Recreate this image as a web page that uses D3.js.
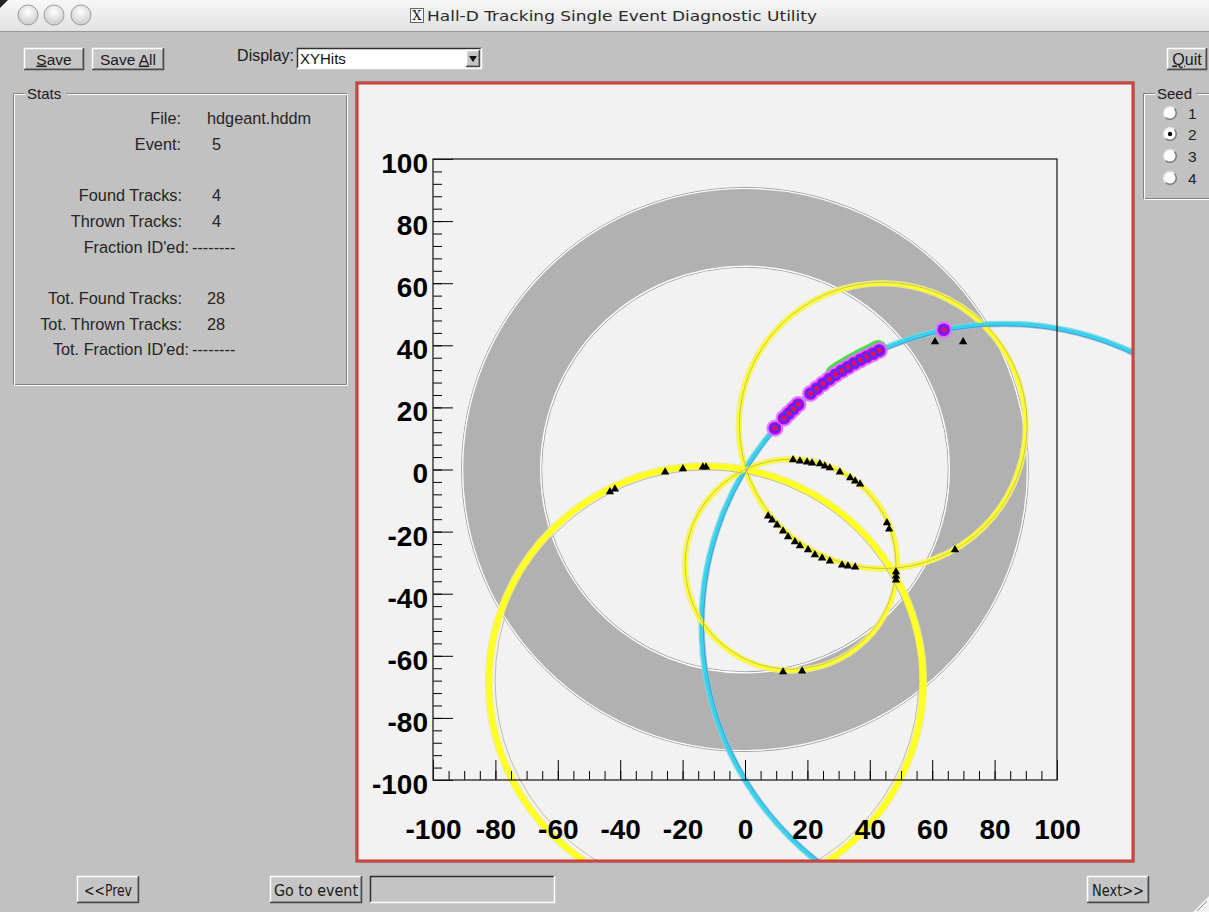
<!DOCTYPE html>
<html><head><meta charset="utf-8">
<script src="https://cdn.jsdelivr.net/npm/d3@7/dist/d3.min.js"></script>
<style>
body{margin:0;background:#c0c0c0;overflow:hidden}
svg{display:block}
</style>
</head><body>
<svg id="c" width="1209" height="912"></svg>
<script>
// ---------------- data ----------------
const axisDomain = [-100, 100];
const xTickValues = [-100, -80, -60, -40, -20, 0, 20, 40, 60, 80, 100];
const yTickValues = [-100, -80, -60, -40, -20, 0, 20, 40, 60, 80, 100];
const detectorInnerR = 65.5;
const detectorOuterR = 90.5;

// found track circles (x-y projection of helices), seed index 1..4
const foundSeed = [1, 2, 3, 4];
const foundCx = [44, 83, 14.8, -12.5];
const foundCy = [14, -50, -30.7, -68.5];
const foundR  = [46, 96.9, 34, 69.6];
// thrown (true) tracks
const thrownCx = [44.3, 83, 14.6, -12.2];
const thrownCy = [14.2, -50, -30.5, -68];
const thrownR  = [46.1, 96.3, 33.8, 67.9];
const selectedSeed = 2;

// hits belonging to the selected seed
const seedHitX = [9.6, 12.5, 14, 15.5, 17, 21, 23, 25, 27, 29, 31, 33, 35, 37, 39, 41, 43, 63.7];
const seedHitY = [13.3, 16.5, 18.0, 19.5, 20.9, 24.5, 26.1, 27.6, 29.1, 30.5, 31.8, 33.0, 34.2, 35.3, 36.3, 37.3, 38.3, 45.0];
// hits matched to thrown track (green highlight)
const matchedHitX = [29, 31, 33, 35, 37, 39, 41, 43];
const matchedHitY = [30.5, 31.8, 33.0, 34.2, 35.3, 36.3, 37.3, 38.3];
// other hits
const otherHitX = [-43.3, -41.7, -25.6, -19.9, -13.5, -12.5,
  15.4, 17.6, 19.9, 21.5, 24.0, 25.6, 27.2, 30.4, 33.7, 35.3, 36.9, 45.5, 46.2, 48.4, 48.4, 48.4, 12.2, 18.3,
  7.4, 8.7, 10.3, 12.2, 13.8, 16.0, 17.6, 20.2, 22.4, 24.7, 27.2, 31.1, 33.0, 35.3, 67.3,
  60.9, 69.9];
const otherHitY = [-7.2, -6.3, -0.8, 0.2, 0.8, 0.8,
  3.1, 2.7, 2.4, 2.1, 1.8, 1.1, 0.5, -0.8, -2.7, -3.7, -4.7, -17.2, -19.2, -33.0, -34.3, -35.6, -65.2, -64.9,
  -15.0, -16.3, -17.9, -19.8, -21.7, -23.3, -24.6, -25.9, -27.5, -28.5, -29.5, -30.8, -31.1, -31.4, -25.9,
  41.1, 41.1];

const statLabels = ["File:", "Event:", "", "Found Tracks:", "Thrown Tracks:", "Fraction ID'ed:", "", "Tot. Found Tracks:", "Tot. Thrown Tracks:", "Tot. Fraction ID'ed:"];
const statValues = ["hdgeant.hddm", "5", "", "4", "4", "--------", "", "28", "28", "--------"];
const seedOptions = ["1", "2", "3", "4"];
const windowTitle = "Hall-D Tracking Single Event Diagnostic Utility";
const displayChoice = "XYHits";

// ---------------- drawing ----------------
const svg = d3.select("#c");
const W = 1209, H = 912;
const FONT = "'Liberation Sans', Arial, Helvetica, sans-serif";
const NARROW = "'Liberation Sans Narrow', 'DejaVu Sans Condensed', 'Liberation Sans', sans-serif";
const defs = svg.append("defs");

svg.append("rect").attr("width", W).attr("height", H).attr("fill", "#c1c1c1");

// title bar
const tg = defs.append("linearGradient").attr("id", "tb").attr("x1", 0).attr("y1", 0).attr("x2", 0).attr("y2", 1);
tg.append("stop").attr("offset", 0).attr("stop-color", "#f7f7f7");
tg.append("stop").attr("offset", 1).attr("stop-color", "#e2e2e2");
svg.append("rect").attr("width", W).attr("height", 31).attr("fill", "url(#tb)");
svg.append("line").attr("x1", 0).attr("x2", W).attr("y1", 31.5).attr("y2", 31.5).attr("stroke", "#9a9a9a");
const rg = defs.append("radialGradient").attr("id", "tl").attr("cx", 0.5).attr("cy", 0.35).attr("r", 0.6);
rg.append("stop").attr("offset", 0).attr("stop-color", "#ffffff");
rg.append("stop").attr("offset", 1).attr("stop-color", "#cfcfcf");
[28, 54, 81].forEach(cx => {
  svg.append("circle").attr("cx", cx).attr("cy", 15).attr("r", 10).attr("fill", "url(#tl)").attr("stroke", "#9c9c9c").attr("stroke-width", 1);
});
svg.append("path").attr("d", "M0,0 L8,0 L0,8 Z").attr("fill", "#222");
svg.append("rect").attr("x", 410.5).attr("y", 8.5).attr("width", 13).attr("height", 14).attr("fill", "#fafafa").attr("stroke", "#666");
svg.append("text").attr("x", 417).attr("y", 20).attr("text-anchor", "middle").attr("font-family", "'DejaVu Serif', serif").attr("font-size", 13).attr("fill", "#222").text("X");
svg.append("text").attr("x", 427).attr("y", 20.5).attr("font-family", "'DejaVu Sans', sans-serif").attr("font-size", 14.5)
  .attr("textLength", 390).attr("lengthAdjust", "spacingAndGlyphs").attr("fill", "#2a2a2a").text(windowTitle);

// helpers
function button(x, y, w, h, label, opts = {}) {
  const g = svg.append("g");
  g.append("rect").attr("x", x).attr("y", y).attr("width", w).attr("height", h).attr("fill", "#c6c6c6");
  g.append("path").attr("d", `M${x + .5},${y + h} V${y + .5} H${x + w}`).attr("fill", "none").attr("stroke", "#ffffff").attr("stroke-width", 1.5);
  g.append("path").attr("d", `M${x},${y + h - .5} H${x + w - .5} V${y}`).attr("fill", "none").attr("stroke", "#4a4a4a").attr("stroke-width", 1.5);
  g.append("path").attr("d", `M${x + 1.5},${y + h - 1.5} H${x + w - 1.5} V${y + 1.5}`).attr("fill", "none").attr("stroke", "#8c8c8c").attr("stroke-width", 1);
  const t = g.append("text").attr("x", x + w / 2).attr("y", y + h / 2 + (opts.dy || 5.5)).attr("text-anchor", "middle")
    .attr("font-family", opts.font || FONT).attr("font-size", opts.size || 15.5).attr("fill", "#1a1a1a");
  if (opts.ul !== undefined) {
    t.append("tspan").text(label.slice(0, opts.ul));
    t.append("tspan").attr("text-decoration", "underline").text(label[opts.ul]);
    t.append("tspan").text(label.slice(opts.ul + 1));
  } else t.text(label);
  if (opts.len) t.attr("textLength", opts.len).attr("lengthAdjust", "spacingAndGlyphs");
  return g;
}
function groove(x, y, w, h, label, lx, lw) {
  const g = svg.append("g");
  const p = `M${lx - 3},${y} H${x} V${y + h} H${x + w} V${y} H${lx + lw + 3}`;
  g.append("path").attr("d", p).attr("fill", "none").attr("stroke", "#808080").attr("stroke-width", 1).attr("transform", "translate(0.5,0.5)");
  g.append("path").attr("d", p).attr("fill", "none").attr("stroke", "#ffffff").attr("stroke-width", 1).attr("transform", "translate(1.5,1.5)");
  g.append("text").attr("x", lx).attr("y", y + 5.5).attr("font-family", FONT).attr("font-size", 15).attr("fill", "#1a1a1a").text(label);
}
function sunken(x, y, w, h, fill) {
  svg.append("rect").attr("x", x).attr("y", y).attr("width", w).attr("height", h).attr("fill", fill);
  svg.append("path").attr("d", `M${x + .5},${y + h} V${y + .5} H${x + w}`).attr("fill", "none").attr("stroke", "#303030").attr("stroke-width", 1.5);
  svg.append("path").attr("d", `M${x},${y + h - .5} H${x + w - .5} V${y}`).attr("fill", "none").attr("stroke", "#ffffff").attr("stroke-width", 1.5);
}

// top row controls
button(24, 48, 60, 22, "Save", { ul: 0 });
button(92, 48, 72, 22, "Save All", { ul: 5 });
svg.append("text").attr("x", 294).attr("y", 61).attr("text-anchor", "end").attr("font-family", FONT).attr("font-size", 16).attr("fill", "#1a1a1a").text("Display:");
sunken(297, 48, 185, 21, "#ffffff");
svg.append("text").attr("x", 300).attr("y", 64).attr("font-family", FONT).attr("font-size", 15).attr("fill", "#111").text(displayChoice);
button(466, 50, 14, 17, "");
svg.append("path").attr("d", "M469,56 L477,56 L473,62 Z").attr("fill", "#111");
button(1167, 48, 40, 22, "Quit", { ul: 0, size: 16 });

// stats group
groove(13, 93, 333, 291, "Stats", 27, 36);
const rowY = statLabels.map((d, i) => 124 + i * 25.7);
const labelRight = [181, 181, 0, 182, 182, 189, 0, 182, 182, 189];
const valueLeft = [207, 212, 0, 212, 212, 192, 0, 207, 207, 192];
statLabels.forEach((d, i) => {
  if (!d) return;
  svg.append("text").attr("x", labelRight[i]).attr("y", rowY[i]).attr("text-anchor", "end").attr("font-family", FONT).attr("font-size", 16.3).attr("fill", "#252525").text(d);
  svg.append("text").attr("x", valueLeft[i]).attr("y", rowY[i]).attr("font-family", FONT).attr("font-size", 16.3).attr("fill", "#252525").text(statValues[i]);
});

// seed group
groove(1143, 93, 80, 105, "Seed", 1157, 36);
const seedY = [113, 134, 156, 178];
seedOptions.forEach((s, i) => {
  const cy = seedY[i], cx = 1170;
  svg.append("circle").attr("cx", cx).attr("cy", cy).attr("r", 6).attr("fill", "#ffffff");
  svg.append("path").attr("d", d3.arc()({ innerRadius: 5.5, outerRadius: 7, startAngle: -Math.PI * 0.75 - Math.PI, endAngle: Math.PI * 0.25 - Math.PI })).attr("transform", `translate(${cx},${cy})`).attr("fill", "#7a7a7a");
  svg.append("path").attr("d", d3.arc()({ innerRadius: 5.5, outerRadius: 7, startAngle: Math.PI * 0.25 - Math.PI, endAngle: Math.PI * 1.25 - Math.PI })).attr("transform", `translate(${cx},${cy})`).attr("fill", "#e8e8e8");
  if (+s === selectedSeed) svg.append("circle").attr("cx", cx).attr("cy", cy).attr("r", 2.2).attr("fill", "#000");
  svg.append("text").attr("x", 1188).attr("y", cy + 5.5).attr("font-family", FONT).attr("font-size", 15.5).attr("fill", "#222").text(s);
});

// bottom controls
button(77, 876, 62, 27, "<<Prev", { font: NARROW, size: 16, len: 48, dy: 6 });
button(270, 876, 92, 27, "Go to event", { font: NARROW, size: 16, len: 84, dy: 6 });
sunken(370, 876, 185, 27, "#c4c4c4");
button(1087, 876, 62, 27, "Next>>", { font: NARROW, size: 16, len: 52, dy: 6 });
svg.append("path").attr("d", "M1209,896 L1209,912 L1193,912 Z").attr("fill", "#f4f4f4");
svg.append("line").attr("x1", 1197).attr("y1", 911).attr("x2", 1207).attr("y2", 901).attr("stroke", "#888");

// canvas
const cv = { x: 357, y: 83, w: 776, h: 778 };
svg.append("rect").attr("x", cv.x).attr("y", cv.y).attr("width", cv.w).attr("height", cv.h).attr("fill", "#f2f2f2");
defs.append("clipPath").attr("id", "cvclip").append("rect").attr("x", cv.x + 1).attr("y", cv.y + 1).attr("width", cv.w - 2).attr("height", cv.h - 2);

const x = d3.scaleLinear().domain(axisDomain).range([433, 1057]);
const y = d3.scaleLinear().domain(axisDomain).range([780, 159]);
const rx = r => x(r) - x(0);
const ry = r => y(0) - y(r);

const plot = svg.append("g").attr("clip-path", "url(#cvclip)");

// detector annulus
const ann = d3.path();
const ell = (p, r) => {
  const a = rx(r), b = ry(r), cx = x(0), cy = y(0);
  p.moveTo(cx + a, cy);
  for (let k = 1; k <= 360; k++) { const t = k * Math.PI / 180; p.lineTo(cx + a * Math.cos(t), cy - b * Math.sin(t)); }
  p.closePath();
};
ell(ann, detectorOuterR); ell(ann, detectorInnerR);
plot.append("path").attr("d", ann.toString()).attr("fill", "#b1b1b1").attr("fill-rule", "evenodd");
[detectorOuterR, detectorInnerR].forEach((r, i) => {
  plot.append("ellipse").attr("cx", x(0)).attr("cy", y(0)).attr("rx", rx(r) + (i ? -1 : 1)).attr("ry", ry(r) + (i ? -1 : 1))
    .attr("fill", "none").attr("stroke", "#8d8d8d").attr("stroke-width", 0.8);
  plot.append("ellipse").attr("cx", x(0)).attr("cy", y(0)).attr("rx", rx(r)).attr("ry", ry(r))
    .attr("fill", "none").attr("stroke", "#ffffff").attr("stroke-width", 1.2);
});

// tracks
const tracks = foundSeed.map((s, i) => ({ seed: s, cx: foundCx[i], cy: foundCy[i], r: foundR[i], tcx: thrownCx[i], tcy: thrownCy[i], tr: thrownR[i] }));
const isSel = d => d.seed === selectedSeed;
plot.selectAll("ellipse.halo").data(tracks).join("ellipse").attr("class", "halo")
  .attr("cx", d => x(d.cx)).attr("cy", d => y(d.cy)).attr("rx", d => rx(d.r)).attr("ry", d => ry(d.r))
  .attr("fill", "none").attr("stroke", d => isSel(d) ? "#80d4e4" : "#efef8a").attr("stroke-width", d => d.seed === 4 ? 8 : 6.5).attr("opacity", 0.85);
plot.selectAll("ellipse.core").data(tracks).join("ellipse").attr("class", "core")
  .attr("cx", d => x(d.cx)).attr("cy", d => y(d.cy)).attr("rx", d => rx(d.r)).attr("ry", d => ry(d.r))
  .attr("fill", "none").attr("stroke", d => isSel(d) ? "#35d4ec" : "#ffff20").attr("stroke-width", d => d.seed === 4 ? 5.5 : 4);
plot.selectAll("ellipse.thrown").data(tracks).join("ellipse").attr("class", "thrown")
  .attr("cx", d => x(d.tcx)).attr("cy", d => y(d.tcy)).attr("rx", d => rx(d.tr)).attr("ry", d => ry(d.tr))
  .attr("fill", "none").attr("stroke", d => isSel(d) ? "#5c80c8" : "#b8b088").attr("stroke-width", 1).attr("opacity", 0.8);

// other hits (black triangles)
const tri = d3.symbol().type(d3.symbolTriangle).size(30);
plot.selectAll("path.oh").data(otherHitX.map((v, i) => [v, otherHitY[i]])).join("path").attr("class", "oh")
  .attr("d", tri).attr("transform", d => `translate(${x(d[0])},${y(d[1])})`).attr("fill", "#000");

// matched hits highlight (green)
plot.append("path").attr("d", d3.line().x(d => x(d[0]) - 1).y(d => y(d[1]) - 1.5).curve(d3.curveCatmullRom)(matchedHitX.map((v, i) => [v, matchedHitY[i]])))
  .attr("fill", "none").attr("stroke", "#44e044").attr("stroke-width", 18).attr("stroke-linecap", "round");

// seed hits
const sh = seedHitX.map((v, i) => [v, seedHitY[i]]);
plot.selectAll("circle.g1").data(sh).join("circle").attr("class", "g1").attr("cx", d => x(d[0])).attr("cy", d => y(d[1])).attr("r", 8.5).attr("fill", "#e070ff").attr("opacity", 0.9);
plot.selectAll("circle.g2").data(sh).join("circle").attr("class", "g2").attr("cx", d => x(d[0])).attr("cy", d => y(d[1])).attr("r", 6.3).attr("fill", "#b800f0");
plot.selectAll("circle.g3").data(sh).join("circle").attr("class", "g3").attr("cx", d => x(d[0])).attr("cy", d => y(d[1])).attr("r", 4).attr("fill", "none").attr("stroke", "#3838ee").attr("stroke-width", 1.5);
plot.selectAll("circle.g4").data(sh).join("circle").attr("class", "g4").attr("cx", d => x(d[0])).attr("cy", d => y(d[1])).attr("r", 2.2).attr("fill", "#f01030");

// axes
const axG = svg.append("g");
const style = g => { g.select(".domain").remove(); g.selectAll("line").attr("stroke", "#000").attr("stroke-width", 1); };
axG.append("g").attr("transform", `translate(0,${y(-100)})`)
  .call(d3.axisBottom(x).tickValues(d3.range(-100, 101, 5)).tickSize(-9).tickFormat("")).call(style);
axG.append("g").attr("transform", `translate(${x(-100)},0)`)
  .call(d3.axisLeft(y).tickValues(d3.range(-100, 101, 4)).tickSize(-9).tickFormat("")).call(style);
const fmt = d => String(d);
const bx = axG.append("g").attr("transform", `translate(0,${y(-100)})`)
  .call(d3.axisBottom(x).tickValues(xTickValues).tickSize(-20).tickPadding(39).tickFormat(fmt)).call(style);
const ly = axG.append("g").attr("transform", `translate(${x(-100)},0)`)
  .call(d3.axisLeft(y).tickValues(yTickValues).tickSize(-20).tickPadding(5).tickFormat(fmt)).call(style);
[bx, ly].forEach(g => g.selectAll("text").attr("font-family", FONT).attr("font-weight", "bold").attr("font-size", 28).attr("fill", "#000"));
ly.selectAll("text").attr("dy", "0.48em");
// frame
svg.append("rect").attr("x", x(-100)).attr("y", y(100)).attr("width", x(100) - x(-100)).attr("height", y(-100) - y(100))
  .attr("fill", "none").attr("stroke", "#222").attr("stroke-width", 1.3);

// canvas red border
svg.append("rect").attr("x", cv.x - 1).attr("y", cv.y - 1).attr("width", cv.w + 2).attr("height", cv.h + 2).attr("fill", "none").attr("stroke", "#9a1c1c").attr("stroke-width", 1);
svg.append("rect").attr("x", cv.x + 0.5).attr("y", cv.y + 0.5).attr("width", cv.w - 1).attr("height", cv.h - 1).attr("fill", "none").attr("stroke", "#d83434").attr("stroke-width", 2);
</script>
</body></html>
